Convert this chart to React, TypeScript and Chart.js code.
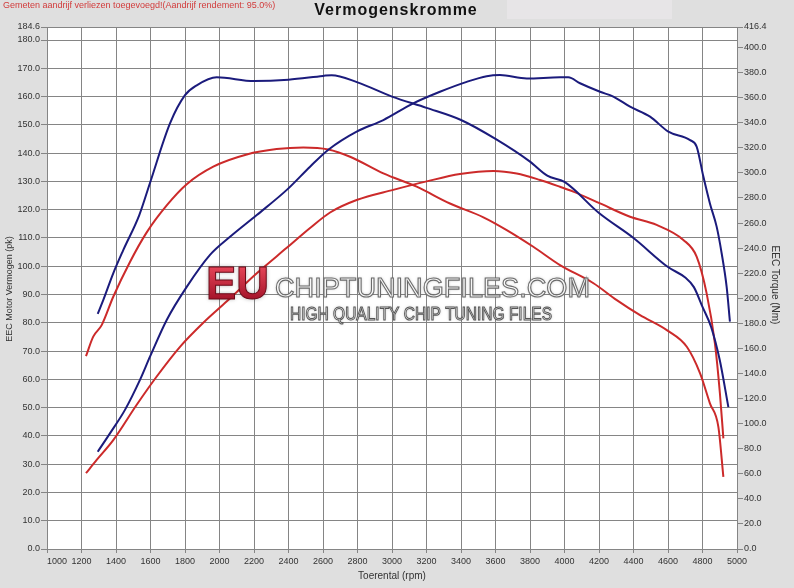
import { useEffect, useRef } from 'react';
import { Chart, registerables } from 'chart.js';

Chart.register(...registerables);

// ---------- data ----------
const tunedTorqueRpm = [1294, 1326, 1384, 1442, 1535, 1597, 1713, 1800, 1868, 1984, 2200, 2400, 2600, 2650, 2800, 3000, 3200, 3400, 3600, 3800, 3900, 4000, 4200, 4400, 4600, 4700, 4750, 4800, 4850, 4900, 4950];
const tunedTorqueNm = [187.5, 198.5, 219.9, 238.4, 266.4, 292.0, 339.5, 362.0, 369.9, 376.3, 373.3, 374.4, 377.4, 378.0, 372.2, 360.9, 351.9, 342.2, 327.1, 309.0, 297.8, 292.8, 268.0, 248.1, 224.9, 216.5, 208.9, 193.1, 177.1, 150.7, 113.2];

const tunedPowerRpm = [1294, 1365, 1452, 1539, 1597, 1694, 1810, 1945, 2061, 2216, 2390, 2525, 2631, 2795, 2950, 3123, 3278, 3433, 3549, 3626, 3781, 3974, 4022, 4090, 4206, 4283, 4380, 4496, 4602, 4728, 4766, 4805, 4843, 4882, 4911, 4940, 4959];
const tunedPowerPk = [34.4, 40.9, 49.2, 59.8, 68.0, 81.0, 92.7, 104.0, 110.4, 118.1, 127.0, 135.2, 141.2, 147.6, 151.7, 157.6, 161.7, 165.2, 167.2, 167.6, 166.4, 166.8, 166.8, 164.7, 161.7, 160.0, 156.4, 152.9, 147.6, 144.6, 142.3, 131.7, 122.2, 114.0, 104.6, 92.7, 80.4];

const stockTorqueRpm = [1226, 1268, 1317, 1384, 1481, 1578, 1694, 1810, 1964, 2158, 2331, 2486, 2631, 2757, 2950, 3143, 3336, 3530, 3665, 3819, 3974, 4168, 4303, 4438, 4593, 4709, 4786, 4843, 4892, 4921];
const stockTorqueNm = [153.8, 169.4, 178.6, 201.2, 229.0, 252.6, 274.1, 291.0, 305.0, 314.7, 319.0, 320.3, 318.7, 312.9, 299.6, 289.0, 275.6, 264.6, 254.4, 241.1, 226.5, 212.0, 198.5, 186.5, 174.6, 161.3, 140.1, 116.2, 97.4, 57.5];

const stockPowerRpm = [1226, 1288, 1384, 1520, 1636, 1771, 1906, 2041, 2216, 2390, 2525, 2641, 2795, 3007, 3201, 3394, 3588, 3723, 3858, 3974, 4051, 4206, 4380, 4534, 4689, 4766, 4824, 4872, 4901, 4921];
const stockPowerPk = [26.8, 31.5, 38.5, 51.0, 61.0, 71.5, 80.0, 87.5, 97.5, 106.5, 113.5, 119.0, 123.4, 127.0, 130.0, 132.6, 133.7, 132.8, 130.5, 128.1, 126.4, 122.2, 117.5, 114.6, 109.3, 103.4, 90.4, 72.7, 55.0, 39.1];

const xTickLabels = [1000, 1200, 1400, 1600, 1800, 2000, 2200, 2400, 2600, 2800, 3000, 3200, 3400, 3600, 3800, 4000, 4200, 4400, 4600, 4800, 5000];
const leftTickLabels = [0, 10, 20, 30, 40, 50, 60, 70, 80, 90, 100, 110, 120, 130, 140, 150, 160, 170, 180, 184.6];
const rightTickLabels = [0, 20, 40, 60, 80, 100, 120, 140, 160, 180, 200, 220, 240, 260, 280, 300, 320, 340, 360, 380, 400, 416.4];

const FONT = '"Liberation Sans", Arial, sans-serif';
const BLUE = '#1b1b7c';
const RED = '#cc2a2a';
const GRID = '#858585';

function pts(xs: number[], ys: number[]) {
  return xs.map((x, i) => ({ x, y: ys[i] }));
}

const decorPlugin = {
  id: 'decor',
  beforeDraw(chart: any) {
    const { ctx, width, height, chartArea } = chart;
    ctx.save();
    ctx.fillStyle = '#dfdfdf';
    ctx.fillRect(0, 0, width, height);
    ctx.fillStyle = '#e7e5e7';
    ctx.fillRect(507, 0, 165, 19);
    ctx.fillStyle = '#ffffff';
    ctx.fillRect(chartArea.left, chartArea.top, chartArea.right - chartArea.left, chartArea.bottom - chartArea.top);
    ctx.restore();
  },
  afterDatasetsDraw(chart: any) {
    const { ctx } = chart;
    ctx.save();
    // watermark
    ctx.textBaseline = 'alphabetic';
    ctx.textAlign = 'left';
    ctx.shadowColor = 'rgba(0,0,0,0.35)';
    ctx.shadowBlur = 4;
    ctx.font = `bold 46px ${FONT}`;
    const g = ctx.createLinearGradient(0, 265, 0, 299);
    g.addColorStop(0, '#e8485a');
    g.addColorStop(1, '#a5142a');
    ctx.fillStyle = g;
    ctx.fillText('EU', 206, 299, 63);
    ctx.shadowBlur = 0;
    ctx.strokeStyle = '#6a0a18';
    ctx.lineWidth = 1;
    ctx.strokeText('EU', 206, 299, 63);

    ctx.shadowColor = 'rgba(0,0,0,0.3)';
    ctx.shadowBlur = 3;
    ctx.font = `28px ${FONT}`;
    ctx.fillStyle = 'rgba(250,250,250,0.95)';
    ctx.fillText('CHIPTUNINGFILES.COM', 275, 297, 315);
    ctx.shadowBlur = 0;
    ctx.strokeStyle = '#6b6b6b';
    ctx.lineWidth = 1.1;
    ctx.strokeText('CHIPTUNINGFILES.COM', 275, 297, 315);

    ctx.shadowColor = 'rgba(0,0,0,0.3)';
    ctx.shadowBlur = 3;
    ctx.font = `18px ${FONT}`;
    ctx.fillStyle = 'rgba(235,235,235,0.95)';
    ctx.fillText('HIGH QUALITY CHIP TUNING FILES', 290, 320, 262);
    ctx.shadowBlur = 0;
    ctx.strokeStyle = '#555555';
    ctx.lineWidth = 1;
    ctx.strokeText('HIGH QUALITY CHIP TUNING FILES', 290, 320, 262);
    ctx.restore();
  },
  afterDraw(chart: any) {
    const { ctx } = chart;
    const xs = chart.scales.x;
    ctx.save();
    // x tick labels
    ctx.fillStyle = '#333333';
    ctx.font = `9px ${FONT}`;
    ctx.textBaseline = 'middle';
    xTickLabels.forEach((v) => {
      const px = xs.getPixelForValue(v);
      ctx.textAlign = v === xTickLabels[0] ? 'left' : 'center';
      ctx.fillText(String(v), px, 562);
    });
    // header
    ctx.fillStyle = '#d23b3b';
    ctx.font = `9px ${FONT}`;
    ctx.textAlign = 'left';
    ctx.fillText('Gemeten aandrijf verliezen toegevoegd!(Aandrijf rendement: 95.0%)', 3, 6, 280);
    ctx.fillStyle = '#111111';
    ctx.font = `bold 16px ${FONT}`;
    (ctx as any).letterSpacing = '1px';
    ctx.textAlign = 'center';
    ctx.textBaseline = 'alphabetic';
    ctx.fillText('Vermogenskromme', 396, 15);
    (ctx as any).letterSpacing = '0px';
    // axis titles
    ctx.fillStyle = '#333333';
    ctx.font = `10px ${FONT}`;
    ctx.textBaseline = 'middle';
    ctx.fillText('Toerental (rpm)', 392, 576);
    ctx.save();
    ctx.translate(10, 289);
    ctx.rotate(-Math.PI / 2);
    ctx.font = `9px ${FONT}`;
    ctx.fillText('EEC Motor Vermogen (pk)', 0, 0);
    ctx.restore();
    ctx.save();
    ctx.translate(775, 285);
    ctx.rotate(Math.PI / 2);
    ctx.font = `10px ${FONT}`;
    ctx.fillText('EEC Torque (Nm)', 0, 0);
    ctx.restore();
    ctx.restore();
  },
};

export default function App() {
  const ref = useRef<HTMLCanvasElement>(null);

  useEffect(() => {
    if (!ref.current) return;
    const line = (label: string, data: any[], color: string, axis: string) => ({
      label,
      data,
      yAxisID: axis,
      borderColor: color,
      backgroundColor: color,
      borderWidth: 2,
      pointRadius: 0,
      fill: false,
      cubicInterpolationMode: 'monotone' as const,
    });
    const tickFont = { size: 9, family: FONT };
    const chart = new Chart(ref.current, {
      type: 'line',
      data: {
        datasets: [
          line('Tuned torque', pts(tunedTorqueRpm, tunedTorqueNm), BLUE, 'yR'),
          line('Tuned power', pts(tunedPowerRpm, tunedPowerPk), BLUE, 'yL'),
          line('Stock torque', pts(stockTorqueRpm, stockTorqueNm), RED, 'yR'),
          line('Stock power', pts(stockPowerRpm, stockPowerPk), RED, 'yL'),
        ],
      },
      options: {
        animation: false,
        responsive: false,
        devicePixelRatio: 1,
        parsing: false as any,
        layout: { padding: { top: 27, left: 0, right: 0, bottom: 0 } },
        plugins: { legend: { display: false }, tooltip: { enabled: false }, title: { display: false } },
        scales: {
          x: {
            type: 'linear',
            min: 1000,
            max: 5000,
            ticks: { display: false, stepSize: 200 },
            grid: { color: GRID, lineWidth: 1, tickLength: 4 },
            border: { display: false },
            afterBuildTicks: (s: any) => { s.ticks = xTickLabels.map((v) => ({ value: v })); },
            afterFit: (s: any) => { s.height = 39; },
          },
          yL: {
            type: 'linear',
            position: 'left',
            min: 0,
            max: 184.6,
            ticks: { autoSkip: false, font: tickFont, color: '#333333', padding: 1, callback: (v: any) => Number(v).toFixed(1) },
            grid: { color: GRID, lineWidth: 1, tickLength: 6 },
            border: { display: false },
            afterBuildTicks: (s: any) => { s.ticks = leftTickLabels.map((v) => ({ value: v })); },
            afterFit: (s: any) => { s.width = 47; },
          },
          yR: {
            type: 'linear',
            position: 'right',
            min: 0,
            max: 416.4,
            ticks: { autoSkip: false, font: tickFont, color: '#333333', padding: 1, callback: (v: any) => Number(v).toFixed(1) },
            grid: { color: GRID, lineWidth: 1, tickLength: 6, drawOnChartArea: false },
            border: { display: false },
            afterBuildTicks: (s: any) => { s.ticks = rightTickLabels.map((v) => ({ value: v })); },
            afterFit: (s: any) => { s.width = 57; },
          },
        },
      } as any,
      plugins: [decorPlugin],
    });
    return () => chart.destroy();
  }, []);

  return (
    <div style={{ position: 'absolute', left: 0, top: 0, width: 794, height: 588 }}>
      <canvas ref={ref} width={794} height={588} style={{ display: 'block' }} />
    </div>
  );
}
